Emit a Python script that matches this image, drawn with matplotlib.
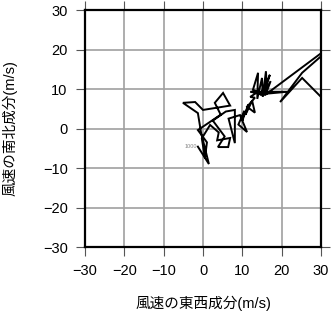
import matplotlib
matplotlib.use("Agg")
import matplotlib.pyplot as plt
import numpy as np

plt.rcParams['font.family'] = ['Liberation Sans', 'Noto Sans CJK JP', 'DejaVu Sans']

# hodograph: east-west (u) and north-south (v) wind components, m/s
u = [-1.3, 1.5, -0.5, -1.3, -5.1, -2.0, 0.0, 6.9, 5.1, 3.0, 4.5, -1.3, 1.0, 0.5,
     -0.3, 1.8, 4.0, 3.6, 6.9, 6.4, 3.8, 5.5, 2.5, 5.8, 8.1, 8.1, 6.5, 9.4, 11.2,
     9.0, 10.5, 10.0, 11.5, 10.8, 12.5,
     13.2, 11.2, 13.2, 12.0, 14.0, 12.7, 14.0, 13.8, 15.0, 15.2, 16.0, 16.3,
     14.5, 16.5, 17.0, 15.5, 17.2, 16.0, 21.4, 12.0,
     15.8, 36.0, 25.2, 19.6, 25.2, 36.0]
v = [-4.6, -9.0, -1.0, 3.9, 6.5, 6.7, 4.7, 5.8, 9.0, 6.5, 3.5, -0.4, -3.5, -7.5,
     -2.5, 0.9, -1.0, -3.0, -2.4, -4.7, -4.7, -2.0, 2.0, 4.3, 4.7, -3.7, 2.5, 3.4, -0.9,
     1.0, 4.5, 2.0, 6.0, 3.5, 7.0,
     4.0, 5.5, 7.8, 8.0, 9.3, 9.8, 14.1, 7.5, 12.8, 8.0, 14.5, 9.0,
     8.5, 12.3, 13.6, 9.0, 12.0, 8.8, 9.3, 9.3,
     8.5, 23.5, 14.1, 6.7, 12.8, 2.0]
start_label = "1000"
ticks = [-30, -20, -10, 0, 10, 20, 30]

fig = plt.figure(figsize=(3.31, 3.18), dpi=100)
ax = fig.add_axes([85/331, 1-247/318, 236/331, 237/318])

ax.set_xlim(-30, 30)
ax.set_ylim(-30, 30)
ax.set_xticks(ticks)
ax.set_yticks(ticks)
ax.grid(True, color='#a0a0a0', lw=1.2)
ax.set_axisbelow(True)

ax.plot(u, v, color='black', lw=1.4, solid_joinstyle='miter')
ax.text(u[0]-3.4, v[0], start_label, fontsize=4, color='#888888', va='center')

for s in ax.spines.values():
    s.set_linewidth(1.6)
ax.tick_params(direction='out', length=6.5, width=0.8, color='#555555',
               top=True, right=True, labelsize=10.5, pad=6)

ax.set_xlabel("風速の東西成分(m/s)", fontsize=10.5)
ax.set_ylabel("風速の南北成分(m/s)", fontsize=10.5)
ax.xaxis.set_label_coords(0.5, -0.205)
ax.yaxis.set_label_coords(-0.285, 0.5)

fig.savefig("out.png", dpi=100)
